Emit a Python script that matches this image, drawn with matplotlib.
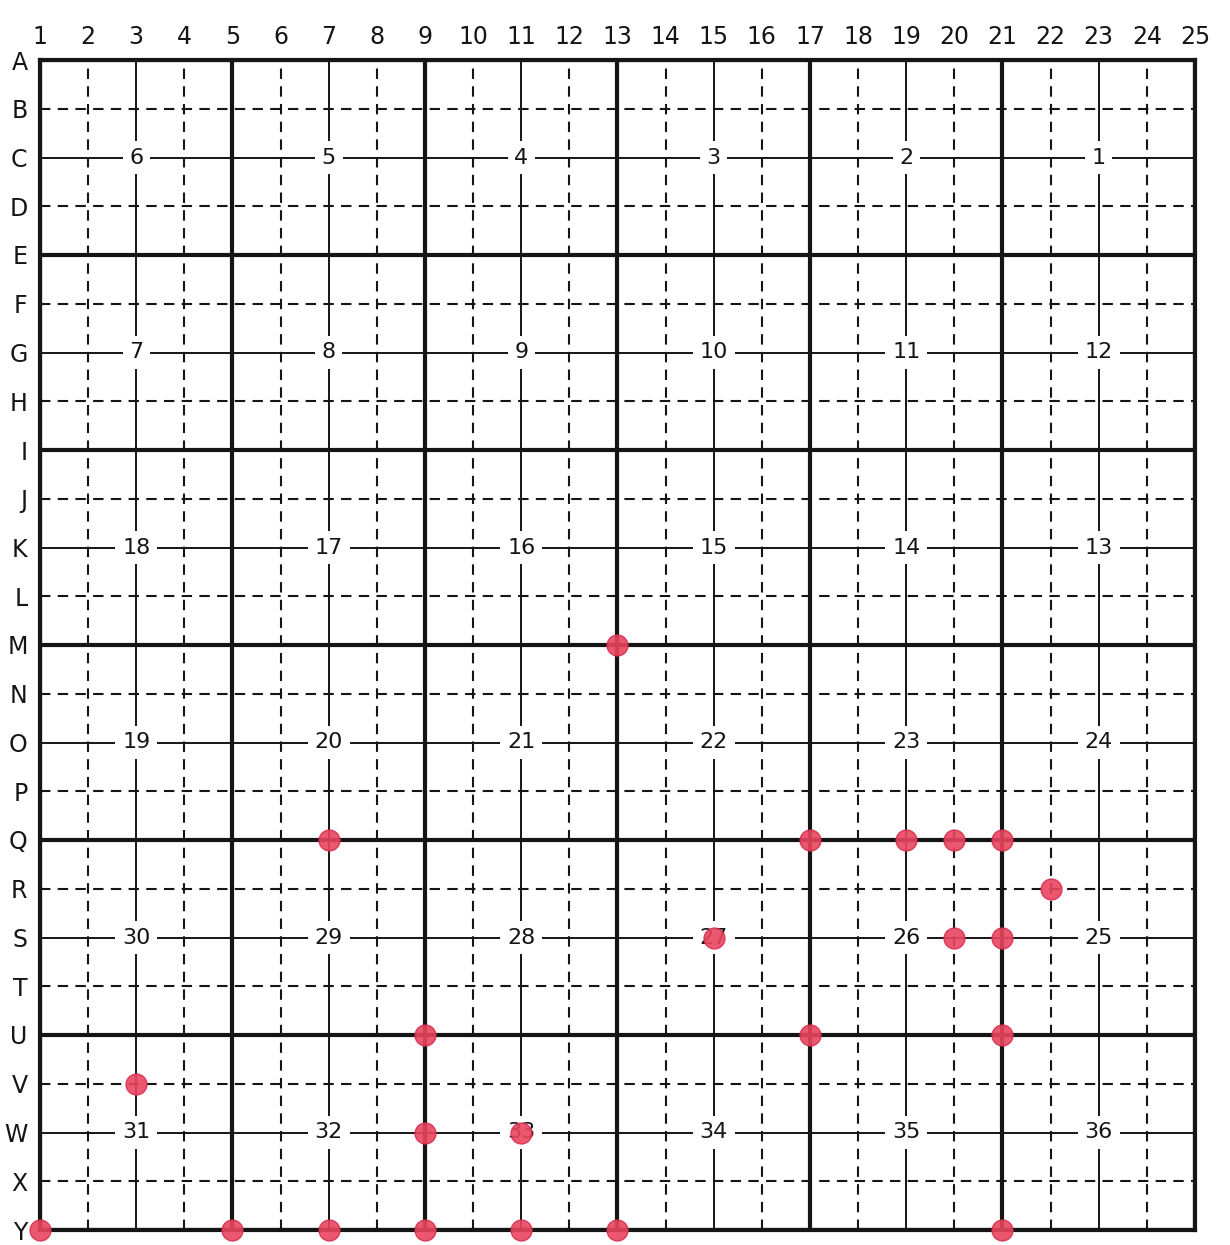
import matplotlib
matplotlib.use("Agg")
import matplotlib.pyplot as plt

# ---- data ----
columns = list(range(1, 26))
rows = list("ABCDEFGHIJKLMNOPQRSTUVWXY")
thick_cols = [1, 5, 9, 13, 17, 21, 25]
thin_cols = [3, 7, 11, 15, 19, 23]
thick_rows = ["A", "E", "I", "M", "Q", "U", "Y"]
thin_rows = ["C", "G", "K", "O", "S", "W"]
section_cols = [3, 7, 11, 15, 19, 23]
section_rows = ["C", "G", "K", "O", "S", "W"]
sections = [
    [6, 5, 4, 3, 2, 1],
    [7, 8, 9, 10, 11, 12],
    [18, 17, 16, 15, 14, 13],
    [19, 20, 21, 22, 23, 24],
    [30, 29, 28, 27, 26, 25],
    [31, 32, 33, 34, 35, 36],
]
dot_cols = [13, 7, 17, 19, 20, 21, 22, 15, 20, 21, 9, 17, 21, 3, 9, 11, 1, 5, 7, 9, 11, 13, 21]
dot_rows = ["M", "Q", "Q", "Q", "Q", "Q", "R", "S", "S", "S", "U", "U", "U", "V", "W", "W",
            "Y", "Y", "Y", "Y", "Y", "Y", "Y"]

ry = {r: len(rows) - 1 - i for i, r in enumerate(rows)}  # A at top

fig = plt.figure(figsize=(12.3, 12.45), dpi=100)
W, H = 1230, 1245
ax = fig.add_axes([40 / W, 1 - 1230 / H, (1195 - 40) / W, (1230 - 60) / H])
ax.set_xlim(1, 25)
ax.set_ylim(0, 24)

ink = "#151515"
# vertical lines
for c in columns:
    if c in thick_cols:
        ax.axvline(c, color=ink, lw=3.0, zorder=3)
    elif c in thin_cols:
        ax.axvline(c, color=ink, lw=1.4, zorder=2)
    else:
        ax.axvline(c, color=ink, lw=1.5, ls=(0, (5, 3.5)), zorder=2)
# horizontal lines
for r in rows:
    y = ry[r]
    if r in thick_rows:
        ax.axhline(y, color=ink, lw=3.0, zorder=3)
    elif r in thin_rows:
        ax.axhline(y, color=ink, lw=1.4, zorder=2)
    else:
        ax.axhline(y, color=ink, lw=1.5, ls=(0, (5, 3.5)), zorder=2)

# section numbers
for r, secs in zip(section_rows, sections):
    for c, s in zip(section_cols, secs):
        ax.text(c, ry[r], str(s), ha="center", va="center", fontsize=16, color=ink,
                zorder=4, bbox=dict(boxstyle="square,pad=0.3", fc="white", ec="none"))

# red dots
ax.plot(dot_cols, [ry[r] for r in dot_rows], "o", ms=15, color="#e8455e", alpha=0.9,
        mec="#d63050", mew=1.0, zorder=5, clip_on=False)

# ticks
ax.xaxis.tick_top()
ax.set_xticks(columns)
ax.set_xticklabels([str(c) for c in columns], fontsize=17, color=ink)
ax.set_yticks([ry[r] for r in rows])
ax.set_yticklabels(rows, fontsize=17, color=ink)
ax.tick_params(length=0, pad=8)
ax.tick_params(axis="y", pad=9)
for s in ax.spines.values():
    s.set_linewidth(3.0)
    s.set_color(ink)

fig.savefig("out.png", dpi=100, facecolor="white")
